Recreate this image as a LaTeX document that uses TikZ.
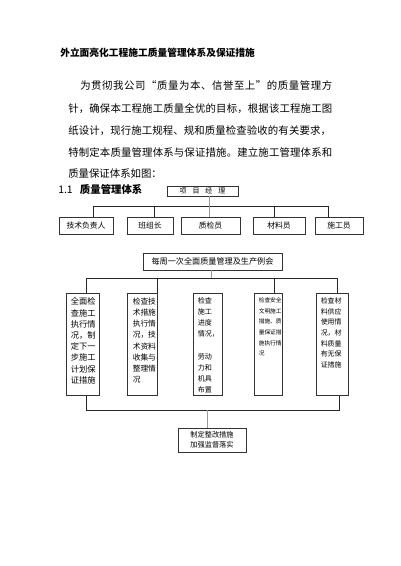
\documentclass[tikz,border=0pt]{standalone}
\usepackage{fontspec}
\setmainfont{Noto Sans CJK SC}
\newfontfamily\bodyfont{Noto Sans CJK SC}
\newcommand\openq{\makebox[1em][r]{“}}
\newcommand\closeq{\makebox[1em][l]{”}}
\makeatletter
\def\spreadline#1#2{\hbox to #1{\spread@first#2\relax}}
\def\spread@first#1{\ifx#1\relax\else#1\expandafter\spread@next\fi}
\def\spread@next#1{\ifx#1\relax\else\hfill#1\expandafter\spread@next\fi}
\makeatother
\usetikzlibrary{positioning}

\tikzset{
  blk/.style={draw=black!80, line width=0.5pt, inner sep=0pt},
  col/.style={blk, anchor=north, minimum height=76.5pt},
  coltxt/.style={anchor=north west, inner sep=0pt, align=left},
  para/.style={anchor=west, inner sep=0pt, font=\bodyfont\fontsize{7.8pt}{8pt}\selectfont},
  wire/.style={line width=0.5pt, black!85},
  gwire/.style={line width=0.5pt, black!40}
}

\begin{document}
\begin{tikzpicture}[x=0.75pt, y=-0.75pt]
\useasboundingbox (0,0) rectangle (400,566);

\node[anchor=west, inner sep=0pt, font=\bfseries\fontsize{7.3pt}{8pt}\selectfont] (title) at (60,53)
  {外立面亮化工程施工质量管理体系及保证措施};

\node[para] (p1) at (80,86) {\spreadline{189pt}{为贯彻我公司\openq 质量为本、信誉至上\closeq 的质量管理方}};
\node[para] (p2) at (68,109) {\spreadline{198pt}{针，确保本工程施工质量全优的目标，根据该工程施工图}};
\node[para] (p3) at (68,131) {\spreadline{197pt}{纸设计，现行施工规程、规和质量检查验收的有关要求，}};
\node[para] (p4) at (68,153) {\spreadline{198pt}{特制定本质量管理体系与保证措施。建立施工管理体系和}};
\node[para] (p5) at (68,174) {质量保证体系如图：};

\node[anchor=west, inner sep=0pt, font=\fontsize{7.8pt}{8pt}\selectfont] (head) at (58,190)
  {1.1\hspace{0.7em}\textbf{质量管理体系}};

\node[blk, minimum width=53.25pt, minimum height=7.5pt, font=\fontsize{5.25pt}{6pt}\selectfont] (pm) at (202.5,191)
  {项\hspace{0.85em}目\hspace{0.85em}经\hspace{0.85em}理};

\node[blk, minimum width=40.5pt, minimum height=12.75pt, font=\fontsize{5.85pt}{6pt}\selectfont] (b1) at (86,225.5) {技术负责人};
\node[blk, minimum width=34.5pt, minimum height=12.75pt, font=\fontsize{5.85pt}{6pt}\selectfont] (b2) at (150,225.5) {班组长};
\node[blk, minimum width=44.25pt, minimum height=12.75pt, font=\fontsize{5.85pt}{6pt}\selectfont] (b3) at (210.5,225.5) {质检员};
\node[blk, minimum width=39pt, minimum height=12.75pt, font=\fontsize{5.85pt}{6pt}\selectfont] (b4) at (279,225.5) {材料员};
\node[blk, minimum width=36pt, minimum height=12.75pt, font=\fontsize{5.85pt}{6pt}\selectfont] (b5) at (339,225.5) {施工员};

\coordinate (u1) at (93,206);
\coordinate (u2) at (154,206);
\coordinate (u3) at (209,206);
\coordinate (u4) at (274,206);
\coordinate (u5) at (328,206);
\draw[wire] (u1) -- (u5);
\draw[gwire] (u3 |- pm.south) -- (u3 |- b3.north);
\draw[wire] (u1) -- (u1 |- b1.north);
\draw[wire] (u2) -- (u2 |- b2.north);
\draw[wire] (u4) -- (u4 |- b4.north);
\draw[wire] (u5) -- (u5 |- b5.north);

\node[blk, minimum width=104.25pt, minimum height=12.75pt, font=\fontsize{6.1pt}{7pt}\selectfont] (meet) at (212.5,261.5)
  {每周一次全面质量管理及生产例会};

\node[col, minimum width=24.75pt] (c1) at (82.5,293) {};
\node[col, minimum width=22.5pt] (c2) at (142,293) {};
\node[col, minimum width=21.75pt] (c3) at (207.5,293) {};
\node[col, minimum width=21pt] (c4) at (268,293) {};
\node[col, minimum width=24pt] (c5) at (332,293) {};

\node[coltxt, font=\fontsize{6.2pt}{8.4pt}\selectfont] (c1t) at (70.5,297.5)
  {全面检\\查施工\\执行情\\况，制\\定下一\\步施工\\计划保\\证措施};
\node[coltxt, font=\fontsize{5.8pt}{8.4pt}\selectfont] (c2t) at (132.5,297.5)
  {检查技\\术措施\\执行情\\况，技\\术资料\\收集与\\整理情\\况};
\begin{scope}
\clip (c3.north west) rectangle (c3.south east);
\node[coltxt, font=\fontsize{5.3pt}{8.3pt}\selectfont] (c3t) at (197.5,297.5)
  {检查\\施工\\进度\\情况，\\ \\劳动\\力和\\机具\\布置\\合理};
\end{scope}
\node[coltxt, font=\fontsize{4.3pt}{8pt}\selectfont] (c4t) at (258.5,297.5)
  {检查安全\\文明施工\\措施、质\\量保证措\\施执行情\\况};
\node[coltxt, font=\fontsize{5.2pt}{8pt}\selectfont] (c5t) at (320.5,297.5)
  {检查材\\料供应\\使用情\\况，材\\料质量\\有无保\\证措施};

\coordinate (v1) at (86,278);
\coordinate (v2) at (157,278);
\coordinate (vm) at (211,278);
\coordinate (v4) at (274,278);
\coordinate (v5) at (337,278);
\draw[wire] (v1) -- (v5);
\draw[gwire] (meet.south -| vm) -- (vm);
\draw[wire] (v1) -- (v1 |- c1.north);
\draw[wire] (v2) -- (v2 |- c2.north);
\draw[wire] (v4) -- (v4 |- c4.north);
\draw[wire] (v5) -- (v5 |- c5.north);

\node[blk, minimum width=51pt, minimum height=18pt, align=center, font=\fontsize{5.4pt}{7.5pt}\selectfont] (fin) at (212,440)
  {制定整改措施\\加强监督落实};

\coordinate (w1) at (86,410);
\coordinate (wm) at (207,410);
\coordinate (w5) at (339,410);
\draw[wire] (c1.south -| w1) -- (w1) -- (w5) -- (c5.south -| w5);
\draw[gwire] (wm) -- (wm |- fin.north);

\end{tikzpicture}
\end{document}
